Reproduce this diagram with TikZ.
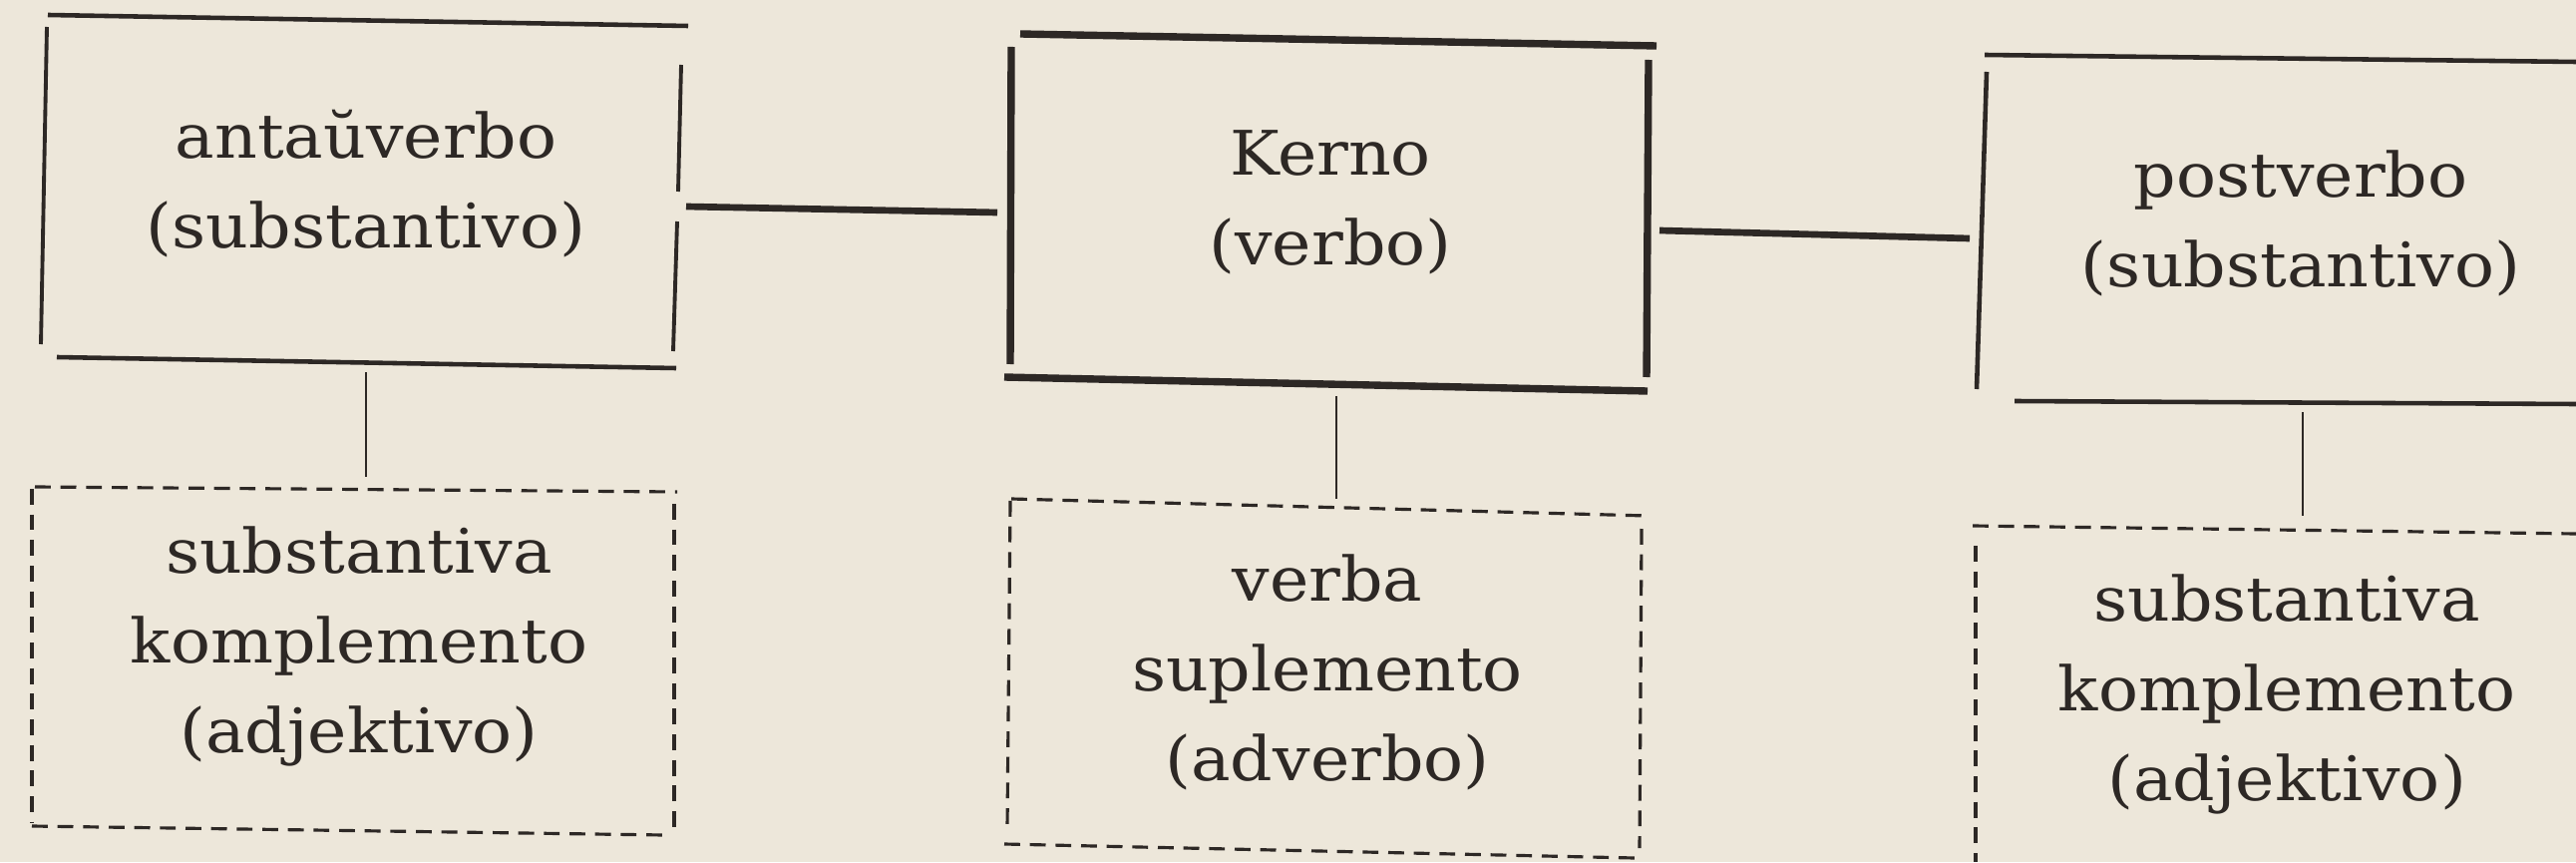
\documentclass[tikz,border=0pt]{standalone}
\usepackage{fontspec}
\setmainfont{DejaVu Serif}[FakeStretch=1.08]
\definecolor{paper}{RGB}{237,231,218}
\definecolor{ink}{RGB}{45,40,37}
\begin{document}
\begin{tikzpicture}[x=0.01cm,y=-0.01cm,
  every node/.style={font=\fontsize{17.5}{25.6}\selectfont, text=ink, align=center, inner sep=0pt},
  edgethin/.style={draw=ink, line width=1.1pt},
  edgemid/.style={draw=ink, line width=1.3pt},
  edgethick/.style={draw=ink, line width=2.1pt},
  conn/.style={draw=ink, line width=1.9pt},
  drop/.style={draw=ink, line width=0.8pt},
  dashedge/.style={draw=ink, line width=0.9pt, dash pattern=on 4.5pt off 2.8pt}]
\fill[paper] (0,0) rectangle (2583,864);
\useasboundingbox (0,0) rectangle (2583,864);

% texts of the boxes
\node (A)  at (367,184)  {antaŭverbo\\(substantivo)};
\node (K)  at (1334,203) {Kerno\\(verbo)};
\node (P)  at (2307,224) {postverbo\\(substantivo)};
\node (DA) at (360,648)  {substantiva\\komplemento\\(adjektivo)};
\node (DK) at (1331,674) {verba\\suplemento\\(adverbo)};
\node (DP) at (2293,696) {substantiva\\komplemento\\(adjektivo)};

% box A (solid)
\draw[edgemid]  (48,15) -- (690,26);
\draw[edgethin] (47,27) -- (41,345);
\draw[edgethin] (683,65) -- (680,192);
\draw[edgethin] (679,222) -- (675,352);
\draw[edgemid]  (57,358) -- (678,369);
% box K (solid, heavy)
\draw[edgethick] (1023,34) -- (1661,46);
\draw[edgethick] (1014,47) -- (1013,365);
\draw[edgethick] (1653,60) -- (1651,378);
\draw[edgethick] (1007,378) -- (1652,392);
% box P (solid)
\draw[edgemid] (1990,55) -- (2583,62);
\draw[edgemid] (1992,72) -- (1982,390);
\draw[edgemid] (2020,402) -- (2583,405);
% dashed box DA
\draw[dashedge] (35,488) -- (679,493);
\draw[dashedge] (32,490) -- (32,825);
\draw[dashedge] (676,505) -- (676,837);
\draw[dashedge] (32,828) -- (666,837);
% dashed box DK
\draw[dashedge] (1014,500) -- (1652,517);
\draw[dashedge] (1013,502) -- (1010,830);
\draw[dashedge] (1646,530) -- (1644,850);
\draw[dashedge] (1007,846) -- (1639,860);
% dashed box DP
\draw[dashedge] (1978,527) -- (2583,535);
\draw[dashedge] (1981,547) -- (1981,864);

% connectors
\draw[conn] ([shift={(321,23)}]A.center) -- ([shift={(-334,10)}]K.center);
\draw[conn] ([shift={(330,28)}]K.center) -- ([shift={(-332,15)}]P.center);
\draw[drop] ([shift={(0,189)}]A.center) -- ([shift={(7,-170)}]DA.center);
\draw[drop] ([shift={(6,194)}]K.center) -- ([shift={(9,-174)}]DK.center);
\draw[drop] ([shift={(2,189)}]P.center) -- ([shift={(16,-179)}]DP.center);
\end{tikzpicture}
\end{document}
